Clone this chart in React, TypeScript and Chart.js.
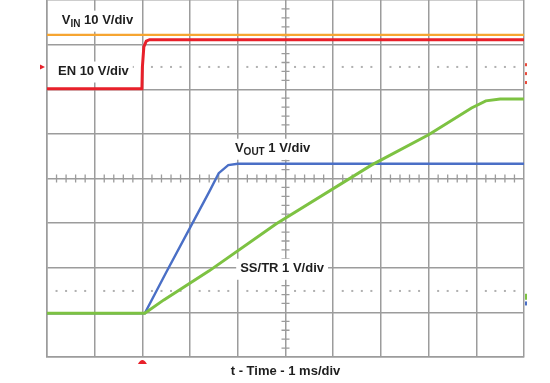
import React, { useEffect, useRef } from "react";
import { Chart, registerables } from "chart.js";

Chart.register(...registerables);

// time in ms (1 ms/div), amplitude in divisions
const vinT = [0, 10];
const vinV = [7.22, 7.22];
const enT = [0, 1.99, 2.0, 2.03, 2.08, 2.15, 10];
const enV = [6.01, 6.01, 6.5, 6.95, 7.08, 7.11, 7.11];
const voutT = [0, 2.05, 2.5, 3.0, 3.4, 3.6, 3.8, 4.0, 10];
const voutV = [0.98, 0.98, 1.9, 2.9, 3.7, 4.12, 4.3, 4.33, 4.33];
const ssT = [0, 2.05, 2.45, 3.4, 4.8, 6.8, 8.0, 8.9, 9.2, 9.5, 10];
const ssV = [0.98, 0.98, 1.28, 1.93, 2.98, 4.3, 4.98, 5.58, 5.74, 5.78, 5.78];

const refLevels = [6.5, 1.48];
const enMarkerLevel = 6.5;
const triggerTime = 2.0;
const xDivs = 10;
const yDivs = 8;
const centerT = 5;
const centerY = 4;

const labelVin = { main: "V", sub: "IN", rest: " 10 V/div", t: 0.31, y: 7.47 };
const labelEn = { main: "EN 10 V/div", sub: "", rest: "", t: 0.23, y: 6.33 };
const labelVout = { main: "V", sub: "OUT", rest: " 1 V/div", t: 3.94, y: 4.6 };
const labelSs = { main: "SS/TR 1 V/div", sub: "", rest: "", t: 4.05, y: 1.91 };
const xTitle = "t - Time - 1 ms/div";

const pts = (t: number[], v: number[]) => t.map((x, i) => ({ x, y: v[i] }));

const FONT = "bold 13px 'Liberation Sans', Arial, sans-serif";
const SUBFONT = "bold 10px 'Liberation Sans', Arial, sans-serif";
const GRID = "#9c9c9c";

const scopePlugin = {
  id: "scope",
  beforeDatasetsDraw(chart: any) {
    const { ctx, scales } = chart;
    const xs = scales.x, ys = scales.y;
    ctx.save();
    // center-axis minor ticks
    ctx.strokeStyle = GRID;
    ctx.lineWidth = 1.3;
    const cx = xs.getPixelForValue(centerT);
    const cy = ys.getPixelForValue(centerY);
    ctx.beginPath();
    for (let i = 1; i < xDivs * 5; i++) {
      if (i % 5 === 0) continue;
      const px = xs.getPixelForValue(i / 5);
      ctx.moveTo(px, cy - 4);
      ctx.lineTo(px, cy + 4);
    }
    for (let i = 1; i < yDivs * 5; i++) {
      if (i % 5 === 0) continue;
      const py = ys.getPixelForValue(i / 5);
      ctx.moveTo(cx - 4, py);
      ctx.lineTo(cx + 4, py);
    }
    ctx.stroke();
    // reference dotted levels
    ctx.fillStyle = "#b0b0b0";
    refLevels.forEach((lv) => {
      const py = ys.getPixelForValue(lv);
      for (let i = 1; i < xDivs * 5; i++) {
        if (i % 5 === 0) continue;
        const px = xs.getPixelForValue(i / 5);
        ctx.fillRect(px - 1, py - 1, 2, 2);
      }
    });
    // labels with white boxes
    const drawLabel = (L: any) => {
      const x = xs.getPixelForValue(L.t);
      const y = ys.getPixelForValue(L.y);
      ctx.font = FONT;
      const w1 = ctx.measureText(L.main).width;
      ctx.font = SUBFONT;
      const w2 = L.sub ? ctx.measureText(L.sub).width : 0;
      ctx.font = FONT;
      const w3 = L.rest ? ctx.measureText(L.rest).width : 0;
      const w = w1 + w2 + w3;
      ctx.fillStyle = "#ffffff";
      ctx.fillRect(x - 4, y - 13, w + 8, 21);
      ctx.fillStyle = "#1e1e1e";
      ctx.textBaseline = "alphabetic";
      ctx.textAlign = "left";
      ctx.fillText(L.main, x, y);
      if (L.sub) {
        ctx.font = SUBFONT;
        ctx.fillText(L.sub, x + w1, y + 3);
      }
      if (L.rest) {
        ctx.font = FONT;
        ctx.fillText(L.rest, x + w1 + w2, y);
      }
    };
    [labelVin, labelEn, labelVout, labelSs].forEach(drawLabel);
    ctx.restore();
  },
  afterDraw(chart: any) {
    const { ctx, chartArea: a, scales } = chart;
    const xs = scales.x, ys = scales.y;
    ctx.save();
    // title
    ctx.font = FONT;
    ctx.fillStyle = "#1e1e1e";
    ctx.textAlign = "center";
    ctx.textBaseline = "alphabetic";
    ctx.fillText(xTitle, xs.getPixelForValue(centerT), a.bottom + 18);
    // EN ground marker (left)
    const ey = ys.getPixelForValue(enMarkerLevel);
    ctx.fillStyle = "#e8202a";
    ctx.beginPath();
    ctx.moveTo(a.left - 7, ey - 2.5);
    ctx.lineTo(a.left - 2, ey);
    ctx.lineTo(a.left - 7, ey + 2.5);
    ctx.closePath();
    ctx.fill();
    // trigger marker (bottom)
    const tx = xs.getPixelForValue(triggerTime);
    ctx.beginPath();
    ctx.moveTo(tx - 4.5, a.bottom + 7);
    ctx.quadraticCurveTo(tx, a.bottom - 1, tx + 4.5, a.bottom + 7);
    ctx.closePath();
    ctx.fill();
    // right-edge level markers
    ctx.fillStyle = "#ea4a3a";
    [6.55, 6.35, 6.15].forEach((lv) => {
      ctx.fillRect(a.right + 1, ys.getPixelForValue(lv) - 1.5, 2, 3);
    });
    ctx.fillStyle = "#7dc242";
    ctx.fillRect(a.right + 1, ys.getPixelForValue(1.35) - 3, 2, 6);
    ctx.fillStyle = "#4a6fc6";
    ctx.fillRect(a.right + 1, ys.getPixelForValue(1.2) - 2, 2, 4);
    ctx.restore();
  },
};

export default function App() {
  const ref = useRef<HTMLCanvasElement>(null);
  useEffect(() => {
    if (!ref.current) return;
    const chart = new Chart(ref.current, {
      type: "line",
      data: {
        datasets: [
          { data: pts(vinT, vinV), borderColor: "#f6a531", borderWidth: 2.2 },
          { data: pts(enT, enV), borderColor: "#e8202a", borderWidth: 3 },
          { data: pts(ssT, ssV), borderColor: "#7dc242", borderWidth: 3 },
          { data: pts(voutT, voutV), borderColor: "#4a6fc6", borderWidth: 2.4 },
        ].map((d) => ({ ...d, pointRadius: 0, tension: 0, fill: false })),
      },
      options: {
        animation: false,
        responsive: true,
        maintainAspectRatio: false,
        layout: { padding: { left: 47, right: 26, top: 0, bottom: 26 } },
        plugins: { legend: { display: false }, tooltip: { enabled: false } },
        scales: {
          x: {
            type: "linear",
            min: 0,
            max: xDivs,
            ticks: { display: false, stepSize: 1 },
            grid: { color: GRID, lineWidth: 1.5, drawTicks: false },
            border: { color: GRID, width: 1.5 },
          },
          y: {
            type: "linear",
            min: 0,
            max: yDivs,
            ticks: { display: false, stepSize: 1 },
            grid: { color: GRID, lineWidth: 1.5, drawTicks: false },
            border: { color: GRID, width: 1.5 },
          },
        },
      },
      plugins: [scopePlugin],
    });
    return () => chart.destroy();
  }, []);
  return (
    <div style={{ position: "fixed", left: 0, top: 0, width: 550, height: 383, background: "#fff" }}>
      <canvas ref={ref} />
    </div>
  );
}
